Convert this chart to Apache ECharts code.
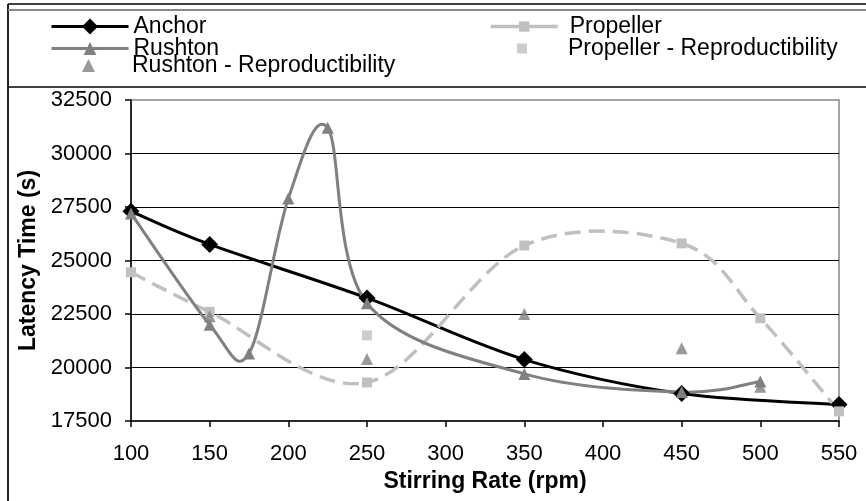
<!DOCTYPE html>
<html>
<head>
<meta charset="utf-8">
<script src="https://cdn.jsdelivr.net/npm/echarts@6/dist/echarts.min.js"></script>
<style>
html,body{margin:0;padding:0;background:#fff;}
#chart{width:866px;height:501px;}
</style>
</head>
<body>
<div id="chart"></div>
<script>
const xTicks = [100,150,200,250,300,350,400,450,500,550];
const yTicks = [17500,20000,22500,25000,27500,30000,32500];

const anchorRpm  = [100,150,250,350,450,550];
const anchorTime = [27300,25750,23250,20370,18780,18270];

const rushtonRpm  = [100,150,175,200,225,250,350,450,500];
const rushtonTime = [27200,22000,20650,27900,31200,23000,19700,18850,19350];

const rushtonReproRpm  = [150,250,350,450,500];
const rushtonReproTime = [22400,20400,22500,20900,19100];

const propellerRpm  = [100,150,250,350,450,500,550];
const propellerTime = [24450,22600,19300,25700,25800,22300,17950];

const propellerReproRpm  = [250];
const propellerReproTime = [21500];

const pairs = (xs, ys) => xs.map((x, i) => [x, ys[i]]);
const FONT = 'Liberation Sans';

// Excel-like smoothed curve drawn through the data points via the axis scales
function smoothCurve(xs, ys, stroke, width, dash, z) {
  return {
    type: 'custom',
    silent: true,
    z: z,
    data: [[xs[0], ys[0]]],
    encode: {x: 0, y: 1},
    renderItem: function (params, api) {
      if (params.dataIndex !== 0) return null;
      const p = xs.map((x, i) => api.coord([x, ys[i]]));
      const children = [];
      let offset = 0;
      for (let i = 0; i < p.length - 1; i++) {
        const p0 = p[i - 1] || p[i], p1 = p[i], p2 = p[i + 1], p3 = p[i + 2] || p[i + 1];
        const c1 = [p1[0] + (p2[0] - p0[0]) / 6, p1[1] + (p2[1] - p0[1]) / 6];
        const c2 = [p2[0] - (p3[0] - p1[0]) / 6, p2[1] - (p3[1] - p1[1]) / 6];
        const style = {stroke: stroke, lineWidth: width, fill: null, lineCap: 'butt', lineJoin: 'round'};
        if (dash) { style.lineDash = dash; style.lineDashOffset = offset; }
        children.push({
          type: 'bezierCurve',
          shape: {x1: p1[0], y1: p1[1], x2: p2[0], y2: p2[1], cpx1: c1[0], cpy1: c1[1], cpx2: c2[0], cpy2: c2[1]},
          style: style
        });
        const d = (a, b) => Math.hypot(a[0] - b[0], a[1] - b[1]);
        const chord = d(p1, p2), net = d(p1, c1) + d(c1, c2) + d(c2, p2);
        offset += (chord + net) / 2;
      }
      return {type: 'group', children: children};
    }
  };
}

const chart = echarts.init(document.getElementById('chart'), null, {renderer: 'canvas'});

const txt = {fontFamily: FONT, fontSize: 23, color: '#000', padding: [0, 0, 0, 0]};
const legendBase = {
  orient: 'horizontal',
  padding: 0,
  itemGap: 0,
  itemWidth: 77,
  itemHeight: 20,
  selectedMode: false,
  textStyle: txt
};

chart.setOption({
  animation: false,
  backgroundColor: '#fff',
  graphic: [
    {type: 'line', shape: {x1: 8, y1: 4, x2: 866, y2: 4}, style: {stroke: '#000', lineWidth: 1.5}},
    {type: 'line', shape: {x1: 8, y1: 4, x2: 8, y2: 501}, style: {stroke: '#222', lineWidth: 2}},
    {type: 'line', shape: {x1: 8, y1: 10, x2: 866, y2: 10}, style: {stroke: '#888', lineWidth: 2}},
    {type: 'line', shape: {x1: 8, y1: 87, x2: 866, y2: 87}, style: {stroke: '#000', lineWidth: 1.5}}
  ],
  legend: [
    Object.assign({}, legendBase, {data: ['Anchor'], left: 50, top: 15,
      lineStyle: {color: '#000', width: 3, opacity: 1, type: 'solid'}}),
    Object.assign({}, legendBase, {data: ['Rushton'], left: 50, top: 37, itemHeight: 16,
      lineStyle: {color: '#808080', width: 3, opacity: 1, type: 'solid'}}),
    Object.assign({}, legendBase, {data: ['Rushton - Reproductibility'], left: 82, top: 54, itemWidth: 13, itemHeight: 13,
      textStyle: Object.assign({}, txt, {padding: [0, 0, 0, 32]})}),
    Object.assign({}, legendBase, {data: ['Propeller'], left: 489, top: 15, itemWidth: 67, itemHeight: 13,
      lineStyle: {color: '#c0c0c0', width: 3.5, opacity: 1, type: 'solid'},
      textStyle: Object.assign({}, txt, {padding: [0, 0, 0, 7]})}),
    Object.assign({}, legendBase, {data: ['Propeller - Reproductibility'], left: 517, top: 37, itemWidth: 10, itemHeight: 10,
      textStyle: Object.assign({}, txt, {padding: [0, 0, 0, 36]})})
  ],
  grid: {
    left: 131, right: 27, top: 100, bottom: 80,
    containLabel: false,
    outerBoundsMode: 'none',
    show: true,
    borderColor: '#888',
    borderWidth: 1.5,
    backgroundColor: 'transparent'
  },
  xAxis: {
    type: 'value',
    min: xTicks[0], max: xTicks[xTicks.length - 1], interval: 50,
    name: 'Stirring Rate (rpm)',
    nameLocation: 'middle',
    nameGap: 46,
    nameTextStyle: {fontFamily: FONT, fontSize: 23, fontWeight: 'bold', color: '#000'},
    axisLine: {show: true, onZero: false, lineStyle: {color: '#000', width: 1.5}},
    axisTick: {show: true, inside: false, length: 6, lineStyle: {color: '#000', width: 1.5}},
    axisLabel: {fontFamily: FONT, fontSize: 22, color: '#000', margin: 22, formatter: v => String(v)},
    splitLine: {show: false}
  },
  yAxis: {
    type: 'value',
    min: yTicks[0], max: yTicks[yTicks.length - 1], interval: 2500,
    name: 'Latency Time (s)',
    nameLocation: 'middle',
    nameRotate: 90,
    nameGap: 78,
    nameTextStyle: {fontFamily: FONT, fontSize: 23, fontWeight: 'bold', color: '#000'},
    axisLine: {show: true, onZero: false, lineStyle: {color: '#000', width: 1.5}},
    axisTick: {show: true, inside: false, length: 6, lineStyle: {color: '#000', width: 1.5}},
    axisLabel: {fontFamily: FONT, fontSize: 22, color: '#000', margin: 19, formatter: v => String(v)},
    splitLine: {show: true, showMinLine: false, showMaxLine: false, lineStyle: {color: '#000', width: 1}}
  },
  series: [
    smoothCurve(anchorRpm, anchorTime, '#000', 3, null, 2),
    smoothCurve(propellerRpm, propellerTime, '#c0c0c0', 3.5, [16, 8], 3),
    smoothCurve(rushtonRpm, rushtonTime, '#808080', 3, null, 4),
    {
      name: 'Anchor', type: 'line',
      data: pairs(anchorRpm, anchorTime),
      symbol: 'diamond', symbolSize: 17,
      lineStyle: {color: '#000', width: 3, opacity: 0},
      itemStyle: {color: '#000'},
      z: 5
    },
    {
      name: 'Propeller', type: 'line',
      data: pairs(propellerRpm, propellerTime),
      symbol: 'rect', symbolSize: 10,
      lineStyle: {color: '#c0c0c0', width: 3.5, opacity: 0},
      itemStyle: {color: '#c0c0c0'},
      z: 6
    },
    {
      name: 'Rushton', type: 'line',
      data: pairs(rushtonRpm, rushtonTime),
      symbol: 'triangle', symbolSize: 12,
      lineStyle: {color: '#808080', width: 3, opacity: 0},
      itemStyle: {color: '#808080'},
      z: 7
    },
    {
      name: 'Propeller - Reproductibility', type: 'scatter',
      data: pairs(propellerReproRpm, propellerReproTime),
      symbol: 'rect', symbolSize: 10,
      itemStyle: {color: '#c0c0c0'},
      z: 8
    },
    {
      name: 'Rushton - Reproductibility', type: 'scatter',
      data: pairs(rushtonReproRpm, rushtonReproTime),
      symbol: 'triangle', symbolSize: 12,
      itemStyle: {color: '#808080'},
      z: 9
    }
  ]
});
</script>
</body>
</html>
